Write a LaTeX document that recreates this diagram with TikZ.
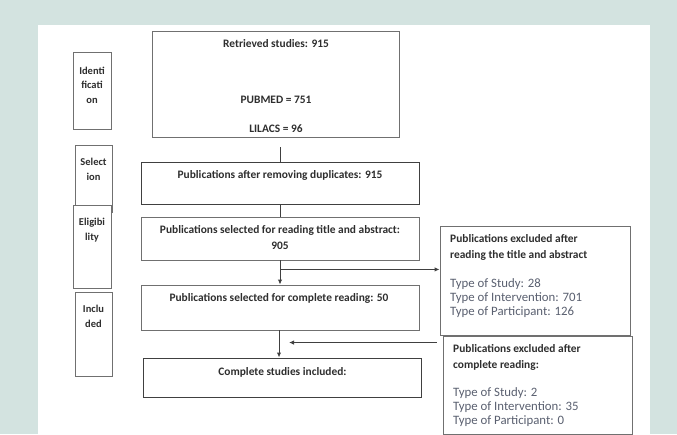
\documentclass[tikz,border=0pt]{standalone}
\usepackage{fontspec}
\setmainfont{Carlito}
\usetikzlibrary{arrows.meta}
\definecolor{bgteal}{HTML}{D3E3E0}
\definecolor{boxline}{HTML}{707070}
\definecolor{darkline}{HTML}{404040}
\definecolor{headtxt}{HTML}{2E2E2E}
\definecolor{typetxt}{HTML}{5A6070}
\begin{document}
\begin{tikzpicture}[x=1pt,y=-1pt,
  box/.style={draw=boxline, line width=0.9pt, fill=white, rectangle, inner sep=0pt},
  darkbox/.style={box, draw=darkline, line width=1pt},
  head/.style={font=\fontsize{11.4}{16}\selectfont\bfseries, text=headtxt, inner sep=0pt},
  typetext/.style={font=\fontsize{12.8}{14}\selectfont, text=typetxt, inner sep=0pt, align=left},
  stagetxt/.style={font=\fontsize{10.5}{14.5}\selectfont\bfseries, text=headtxt, inner sep=0pt, align=center},
  conn/.style={draw=darkline, line width=1pt},
  arr/.style={conn, -{Latex[length=5pt,width=4.5pt]}}
]
\useasboundingbox (0,0) rectangle (677,434);
\fill[bgteal] (0,0) rectangle (677,434);
\fill[white] (38,25) rectangle (650,434);

% stage boxes
\node[box, minimum width=38pt, minimum height=77pt] (sid) at (92,90.5) {};
\node[box, minimum width=37pt, minimum height=67pt] (ssel) at (93.5,178.5) {};
\node[box, minimum width=38pt, minimum height=83pt] (selg) at (92,246.5) {};
\node[box, minimum width=37pt, minimum height=84pt] (sinc) at (93.5,334) {};
\node[stagetxt] (tid) at (92,85) {Identi\\ficati\\on};
\node[stagetxt] (tsel) at (93.5,169.5) {Select\\ion};
\node[stagetxt] (telg) at (92,230) {Eligibi\\lity};
\node[stagetxt] (tinc) at (93.5,316.5) {Inclu\\ded};

% main boxes
\node[box, minimum width=247pt, minimum height=106pt] (ret) at (275.5,84) {};
\node[darkbox, minimum width=278pt, minimum height=42pt] (dup) at (280,183) {};
\node[box, minimum width=278pt, minimum height=43pt] (tia) at (280,238.5) {};
\node[box, minimum width=278pt, minimum height=45pt] (comp) at (280,307.5) {};
\node[darkbox, minimum width=278pt, minimum height=39pt] (incl) at (282,377.5) {};
\node[box, minimum width=190pt, minimum height=109pt] (ex1) at (535,280.5) {};
\node[box, minimum width=189pt, minimum height=98pt] (ex2) at (537.5,385) {};

% texts in main boxes
\node[head] (t1) at (276,44) {Retrieved studies: 915};
\node[head] (t2) at (276,100) {PUBMED = 751};
\node[head] (t3) at (276,129) {LILACS = 96};
\node[head] (t4) at (280,175.5) {Publications after removing duplicates: 915};
\node[head, align=center] (t5) at (280,238) {Publications selected for reading title and abstract:\\905};
\node[head] (t6) at (279,298.5) {Publications selected for complete reading: 50};
\node[head] (t7) at (282.5,372.5) {Complete studies included:};
\node[head, align=left, anchor=west] (t8) at (450,247) {Publications excluded after\\reading the title and abstract};
\node[typetext, anchor=west] (t9) at (450,298) {Type of Study: 28\\Type of Intervention: 701\\Type of Participant: 126};
\node[head, align=left, anchor=west] (t10) at (453,357) {Publications excluded after\\complete reading:};
\node[typetext, anchor=west] (t11) at (453,407.5) {Type of Study: 2\\Type of Intervention: 35\\Type of Participant: 0};

% connectors
\draw[conn] ([yshift=-10pt]ret.south -| dup.north) -- (dup.north);
\draw[conn] (dup.south) -- (tia.north);
\draw[arr] (tia.south) -- (comp.north);
\coordinate (br) at ([yshift=-9pt]tia.south);
\draw[arr] (br) -- (br -| ex1.west);
\draw[arr] ([xshift=-1pt]comp.south) -- ([xshift=-1pt]comp.south |- incl.north);
\coordinate (ex2start) at ([xshift=-6pt,yshift=-7pt]ex2.north west);
\coordinate (tip) at ([xshift=9pt]comp.south |- ex2start);
\draw[arr] (ex2start) -- (tip);
\end{tikzpicture}
\end{document}
